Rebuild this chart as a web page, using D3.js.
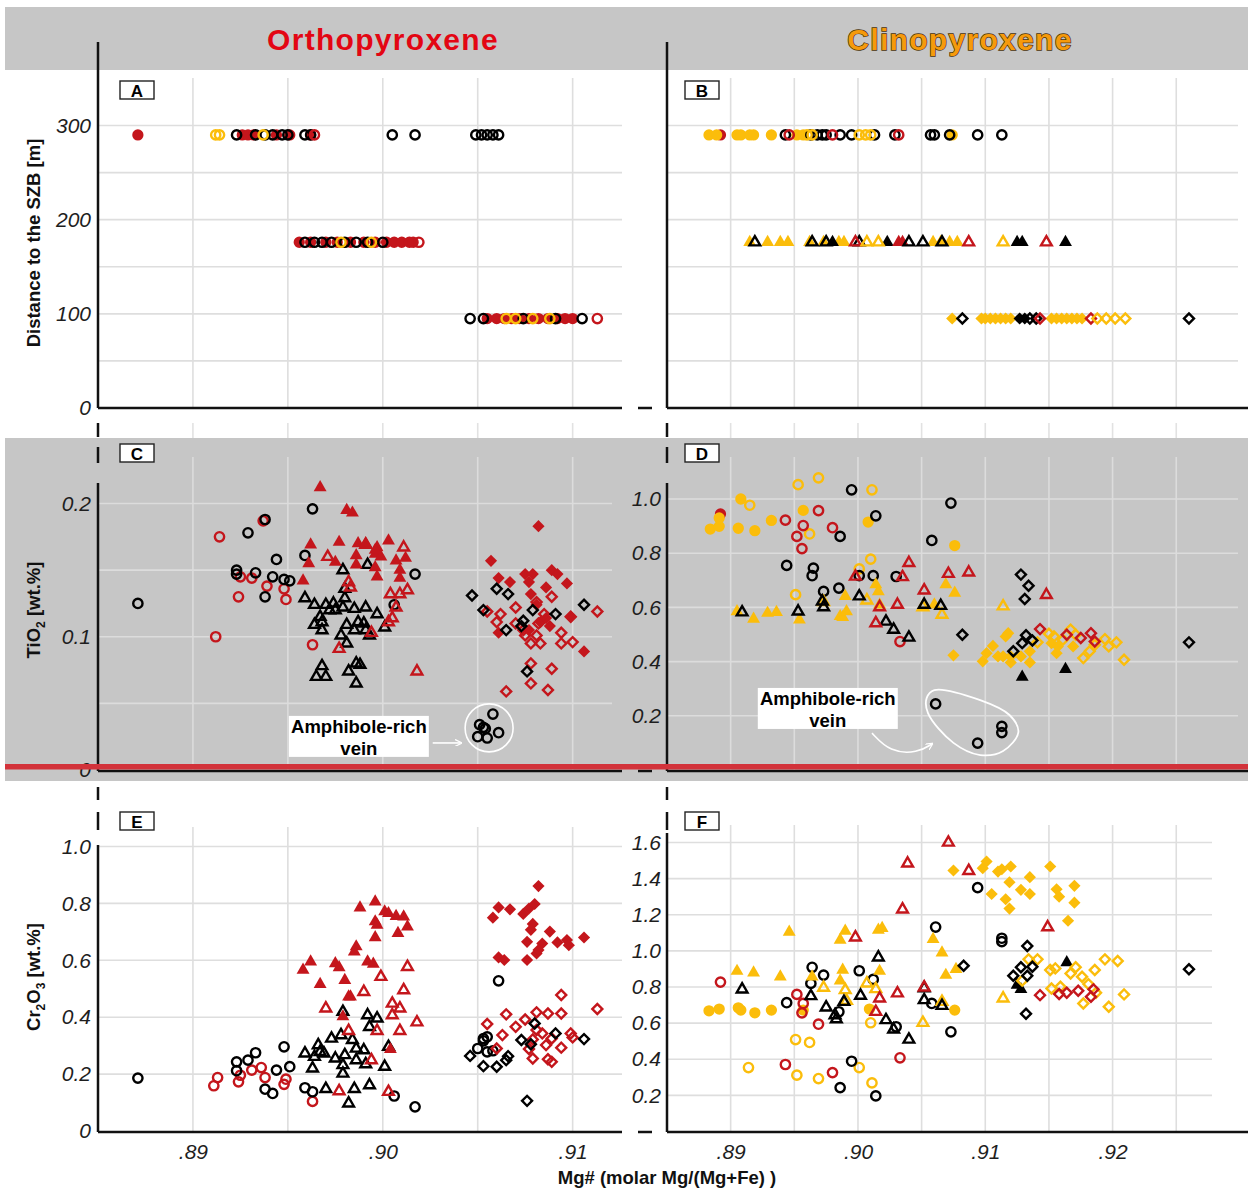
<!DOCTYPE html>
<html>
<head>
<meta charset="utf-8">
<script src="https://cdn.jsdelivr.net/npm/d3@7"></script>
<style>
  body { margin: 0; background: #fff; }
  svg { display: block; }
  text { font-family: "Liberation Sans", Arial, sans-serif; }
</style>
</head>
<body>
<div id="graphicContainer"></div>
<script>
// ---------- colours ----------
var RED = "#c4161c", BLACK = "#000000", ORANGE = "#fbbd0b";

// ---------- ticks / grid ----------
var mgTicksL = [.89, .90, .91];
var mgTicksR = [.89, .90, .91, .92];
var mgGridL = [.89, .895, .90, .905, .91];
var mgGridR = [.89, .895, .90, .905, .91, .915, .92, .925];
var distTicks = [0, 100, 200, 300];
var distGrid = [50, 100, 150, 200, 250, 300];
var tiTicksC = [0, .1, .2];
var tiGridC = [.05, .1, .15, .2];
var tiTicksD = [.2, .4, .6, .8, 1.0];
var crTicksE = [0, .2, .4, .6, .8, 1.0];
var crTicksF = [.2, .4, .6, .8, 1.0, 1.2, 1.4, 1.6];

// ---------- panel A (opx, distance rows) : Mg# values per row ----------
var A_redFilled_290 = [.8871, .8926, .8929, .8932, .8944, .8951, .8962];
var A_redFilled_176 = [.8956, .8962, .8970, .8976, .8983, .8990, .8996, .9002, .9006, .9010, .9014, .9016];
var A_redFilled_95 = [.9055, .9060, .9064, .9068, .9072, .9077, .9082, .9087, .9092, .9096, .9100];
var A_blackOpen_290 = [.8923, .8933, .8938, .8942, .8947, .8950, .8959, .8962, .9005, .9017, .9049, .9052, .9055, .9058, .9061];
var A_blackOpen_176 = [.8959, .8964, .8968, .8973, .8980, .8986, .8992, .9000];
var A_blackOpen_95 = [.9046, .9053, .9074, .9091, .9105];
var A_orangeOpen_290 = [.8912, .8914, .8937];
var A_orangeOpen_176 = [.8978, .8994];
var A_orangeOpen_95 = [.9065, .9070, .9079, .9088];
var A_redOpen_290 = [.8964];
var A_redOpen_176 = [.9019];
var A_redOpen_95 = [.9113];

// ---------- panel B (cpx, distance rows) ----------
var B_redFilledCirc = [.8892];
var B_orangeFilledCirc = [.8883, .8889, .8905, .8908, .8915, .8918, .8932, .8952, .8957, .9074];
var B_blackOpenCirc = [.8943, .8963, .8968, .8972, .8975, .8986, .8995, .9013, .9029, .9057, .9060, .9072, .9094, .9113];
var B_redOpenCirc = [.8946, .8980, .9032];
var B_orangeOpenCirc = [.8960, .8964, .9001, .9006, .9010];
var B_orangeFilledTri = [.8915, .8929, .8939, .8945, .8962, .8973, .8985, .8989, .9059, .9065, .9072, .9078];
var B_blackOpenTri = [.8919, .8964, .8975, .9001, .9040, .9051, .9066];
var B_blackFilledTri = [.8980, .9023, .9125, .9129, .9163];
var B_redOpenTri = [.8998, .9087, .9148];
var B_redFilledTri = [.9032, .9035];
var B_orangeOpenTri = [.9007, .9016, .9114];
var B_orangeFilledDia = [.9074, .9097, .9100, .9104, .9108, .9112, .9116, .9120, .9152, .9156, .9160, .9164, .9168, .9172, .9176];
var B_blackOpenDia = [.9082, .9135, .9140, .9260];
var B_blackFilledDia = [.9127, .9131];
var B_redOpenDia = [.9143, .9183];
var B_orangeOpenDia = [.9188, .9195, .9202, .9210];

// ---------- panel C (opx TiO2) ----------
var C_redOpenCirc = [[.8914,.175],[.8937,.187],[.8925,.145],[.8931,.144],[.8939,.138],[.8924,.130],[.8948,.136],[.8949,.128],[.8912,.100],[.8963,.094]];
var C_blackOpenCirc = [[.8871,.125],[.8938,.188],[.8929,.178],[.8963,.196],[.8944,.158],[.8959,.161],[.8923,.150],[.8923,.147],[.8933,.148],[.8942,.145],[.8948,.143],[.8951,.142],[.8938,.130],[.9017,.147],[.9006,.124],
  [.9058,.042],[.9051,.034],[.9054,.031],[.9061,.028],[.9050,.025],[.9055,.024],[.9053,.032]];
var C_blackOpenTri = [[.8979,.150],[.8992,.154],[.8980,.136],[.8980,.129],[.8959,.129],[.8964,.124],[.8970,.124],[.8974,.125],[.8972,.120],[.8975,.120],[.8979,.122],[.8985,.121],[.8991,.122],[.8997,.117],[.8967,.115],[.8968,.111],[.8964,.109],[.8968,.105],[.8981,.109],[.8987,.111],[.8985,.105],[.8990,.110],[.8991,.105],[.8993,.101],[.9001,.107],[.8978,.101],[.8981,.095],[.8968,.078],[.8965,.070],[.8970,.070],[.8982,.074],[.8986,.080],[.8988,.079],[.8986,.065]];
var C_redFilledTri = [[.8967,.212],[.8981,.195],[.8984,.193],[.8962,.169],[.8977,.171],[.8987,.170],[.8991,.170],[.9003,.172],[.8997,.167],[.8961,.155],[.8986,.161],[.8986,.154],[.8996,.162],[.8999,.160],[.9007,.157],[.9009,.150],[.8996,.152],[.8997,.145],[.9009,.144],[.8958,.142],[.8975,.156],[.8996,.165],[.9012,.159]];
var C_redOpenTri = [[.8971,.160],[.8991,.169],[.9011,.167],[.8982,.141],[.8983,.137],[.9004,.132],[.9009,.132],[.9013,.135],[.9007,.122],[.9005,.114],[.9003,.111],[.8977,.091],[.9018,.074],[.8994,.103]];
var C_redFilledDia = [[.9082,.183],[.9057,.157],[.9061,.144],[.9067,.141],[.9075,.147],[.9079,.147],[.9077,.141],[.9089,.150],[.9092,.147],[.9097,.140],[.9086,.137],[.9078,.132],[.9081,.124],[.9083,.111],[.9088,.108],[.9099,.115],[.9061,.103],[.9106,.089],[.9077,.105],[.9086,.114]];
var C_redOpenDia = [[.9089,.130],[.9081,.126],[.9070,.122],[.9055,.119],[.9062,.117],[.9085,.117],[.9099,.115],[.9113,.119],[.9060,.111],[.9070,.110],[.9082,.110],[.9075,.101],[.9081,.101],[.9094,.103],[.9078,.095],[.9083,.095],[.9094,.095],[.9100,.096],[.9078,.080],[.9089,.076],[.9078,.065],[.9087,.060],[.9065,.059],[.9074,.105]];
var C_blackOpenDia = [[.9047,.131],[.9060,.136],[.9066,.132],[.9053,.120],[.9079,.120],[.9091,.117],[.9106,.124],[.9074,.112],[.9065,.105],[.9073,.108],[.9076,.074]];

// ---------- panel D (cpx TiO2) ----------
var D_redFilledCirc = [[.8892,.945]];
var D_orangeFilledCirc = [[.8908,1.0],[.8884,.889],[.8891,.899],[.8891,.930],[.8906,.892],[.8919,.883],[.8932,.921],[.8957,.958],[.9008,.915],[.9076,.828]];
var D_orangeOpenCirc = [[.8915,.977],[.8953,1.053],[.8969,1.078],[.9011,1.034],[.8962,.871],[.9010,.778],[.9001,.742],[.8951,.647]];
var D_redOpenCirc = [[.8943,.922],[.8969,.957],[.8957,.902],[.8980,.894],[.8952,.862],[.8956,.817],[.9033,.474]];
var D_blackOpenCirc = [[.8995,1.034],[.9073,.985],[.9014,.938],[.8986,.862],[.9058,.847],[.8944,.755],[.8965,.745],[.8964,.717],[.9012,.717],[.9001,.717],[.9030,.714],[.8973,.659],[.8985,.671],
  [.9061,.244],[.9094,.099],[.9113,.161],[.9113,.138]];
var D_orangeFilledTri = [[.8905,.585],[.8918,.557],[.8929,.579],[.8936,.582],[.8954,.554],[.8986,.567],[.8988,.564],[.8991,.585],[.8990,.641],[.9014,.684],[.9016,.659],[.9017,.610],[.9069,.684],[.9076,.653],[.9060,.610]];
var D_orangeOpenTri = [[.8973,.620],[.9007,.626],[.9114,.604],[.9066,.573],[.9051,.601]];
var D_blackOpenTri = [[.8909,.582],[.8953,.585],[.8972,.622],[.8973,.601],[.9001,.641],[.9022,.548],[.9028,.518],[.9040,.489],[.9052,.610],[.9065,.606]];
var D_redOpenTri = [[.9040,.764],[.8998,.714],[.9035,.712],[.9071,.724],[.9087,.729],[.9052,.663],[.9017,.601],[.9031,.610],[.9014,.542],[.9148,.646]];
var D_blackFilledTri = [[.9129,.343],[.9163,.372]];
var D_orangeFilledDia = [[.9075,.423],[.9098,.401],[.9101,.431],[.9106,.458],[.9110,.419],[.9114,.419],[.9116,.493],[.9118,.505],[.9120,.397],[.9120,.419],[.9128,.419],[.9135,.438],[.9135,.397],[.9152,.468],[.9156,.431],[.9157,.456],[.9169,.456]];
var D_orangeOpenDia = [[.9141,.471],[.9150,.503],[.9154,.493],[.9161,.481],[.9167,.518],[.9171,.499],[.9182,.438],[.9177,.413],[.9186,.462],[.9194,.483],[.9197,.456],[.9203,.471],[.9209,.407]];
var D_blackOpenDia = [[.9128,.721],[.9134,.680],[.9131,.631],[.9082,.499],[.9132,.497],[.9129,.468],[.9122,.438],[.9137,.478],[.9260,.471]];
var D_redOpenDia = [[.9143,.520],[.9164,.499],[.9175,.487],[.9183,.505],[.9186,.474]];

// ---------- panel E (opx Cr2O3) ----------
var E_redOpenCirc = [[.8911,.159],[.8913,.188],[.8924,.173],[.8925,.196],[.8931,.214],[.8936,.223],[.8938,.188],[.8948,.164],[.8949,.182],[.8963,.104]];
var E_blackOpenCirc = [[.8871,.186],[.8923,.243],[.8923,.212],[.8929,.249],[.8933,.275],[.8944,.214],[.8948,.296],[.8951,.226],[.8938,.147],[.8942,.132],[.8959,.152],[.8963,.138],[.9006,.123],[.9017,.085],[.9061,.528],[.9050,.290],[.9053,.317],[.9055,.331],[.9055,.278],[.9058,.282],[.9053,.325]];
var E_blackOpenTri = [[.8979,.419],[.8992,.407],[.8997,.396],[.8993,.366],[.8973,.325],[.8978,.337],[.8984,.320],[.8966,.302],[.8967,.278],[.8959,.273],[.8964,.261],[.8969,.273],[.8975,.255],[.8980,.267],[.8986,.290],[.8990,.284],[.8986,.249],[.8979,.232],[.8979,.202],[.8963,.220],[.9001,.226],[.9003,.296],[.8991,.235],[.8970,.148],[.8985,.148],[.8993,.161],[.8982,.097]];
var E_redFilledTri = [[.8988,.785],[.8996,.806],[.9001,.771],[.9003,.765],[.9007,.755],[.9011,.753],[.9013,.718],[.9008,.695],[.8996,.736],[.8997,.724],[.8996,.680],[.8986,.648],[.8985,.630],[.8958,.566],[.8962,.595],[.8975,.589],[.8977,.575],[.8992,.595],[.8995,.587],[.8980,.530],[.8967,.516],[.8982,.472],[.8983,.472],[.8979,.402],[.9004,.287]];
var E_redOpenTri = [[.9013,.577],[.8999,.542],[.9011,.495],[.8990,.489],[.8970,.431],[.9005,.448],[.9009,.431],[.9005,.407],[.9018,.382],[.9009,.352],[.8997,.352],[.8982,.352],[.8994,.249],[.8977,.140],[.9003,.138]];
var E_redFilledDia = [[.9082,.861],[.9061,.786],[.9067,.779],[.9058,.750],[.9074,.763],[.9077,.782],[.9080,.798],[.9079,.728],[.9078,.707],[.9088,.701],[.9076,.665],[.9084,.659],[.9081,.624],[.9082,.636],[.9092,.663],[.9097,.671],[.9098,.653],[.9106,.680],[.9061,.610],[.9064,.601],[.9076,.601]];
var E_redOpenDia = [[.9094,.478],[.9113,.429],[.9065,.410],[.9081,.417],[.9087,.413],[.9094,.413],[.9055,.376],[.9063,.337],[.9070,.366],[.9075,.392],[.9081,.355],[.9084,.343],[.9089,.325],[.9079,.322],[.9086,.302],[.9094,.293],[.9099,.343],[.9100,.329],[.9077,.288],[.9079,.255],[.9087,.252],[.9089,.243],[.9060,.290]];
var E_blackOpenDia = [[.9046,.264],[.9053,.228],[.9060,.226],[.9065,.249],[.9066,.263],[.9073,.320],[.9078,.305],[.9080,.378],[.9091,.343],[.9106,.323],[.9076,.106]];

// ---------- panel F (cpx Cr2O3) ----------
var F_orangeFilledCirc = [[.8883,.668],[.8891,.678],[.8906,.685],[.8908,.672],[.8919,.657],[.8932,.672],[.8957,.672],[.9009,.678],[.9076,.672]];
var F_orangeOpenCirc = [[.8914,.354],[.8951,.509],[.8962,.493],[.8952,.312],[.8969,.293],[.9001,.354],[.9010,.602],[.9011,.269]];
var F_redOpenCirc = [[.8892,.827],[.8952,.759],[.8957,.709],[.8956,.657],[.8969,.594],[.8943,.371],[.8980,.326],[.9033,.408]];
var F_blackOpenCirc = [[.8944,.713],[.8964,.909],[.8963,.820],[.8973,.866],[.9001,.890],[.9012,.842],[.8985,.663],[.9030,.580],[.9058,.709],[.9061,1.132],[.9094,1.350],[.9113,1.070],[.9113,1.051],[.9073,.552],[.8995,.389],[.8986,.243],[.9014,.197]];
var F_orangeFilledTri = [[.8946,1.105],[.8990,1.110],[.8986,1.060],[.9016,1.116],[.9019,1.125],[.9059,1.064],[.9066,.990],[.9077,.898],[.9069,.866],[.8905,.888],[.8918,.879],[.8939,.857],[.8964,.857],[.8988,.894],[.8986,.835],[.9017,.888]];
var F_orangeOpenTri = [[.8973,.796],[.8990,.783],[.8991,.724],[.9007,.820],[.9014,.789],[.9051,.602],[.9114,.737],[.9066,.718]];
var F_blackOpenTri = [[.8909,.787],[.8963,.750],[.8975,.687],[.8982,.644],[.8983,.622],[.8989,.718],[.9002,.752],[.9016,.964],[.9022,.617],[.9028,.565],[.9040,.509],[.9052,.728],[.9066,.696],[.9052,.794]];
var F_redOpenTri = [[.9071,1.600],[.9039,1.484],[.9087,1.443],[.9035,1.230],[.9149,1.131],[.8998,1.075],[.9031,.765],[.9017,.737],[.9052,.798],[.9014,.663]];
var F_blackFilledTri = [[.9164,.936],[.9125,.811],[.9128,.787]];
var F_orangeFilledDia = [[.9075,1.445],[.9098,1.458],[.9101,1.495],[.9110,1.439],[.9113,1.452],[.9120,1.467],[.9151,1.467],[.9135,1.408],[.9119,1.380],[.9128,1.338],[.9135,1.315],[.9105,1.315],[.9116,1.286],[.9119,1.234],[.9156,1.341],[.9158,1.300],[.9170,1.360],[.9170,1.267],[.9165,1.167]];
var F_orangeOpenDia = [[.9134,.953],[.9141,.953],[.9129,.835],[.9151,.894],[.9155,.903],[.9167,.875],[.9171,.909],[.9176,.857],[.9186,.894],[.9194,.953],[.9204,.944],[.9181,.816],[.9187,.768],[.9152,.792],[.9159,.801],[.9177,.709],[.9197,.691],[.9209,.759]];
var F_blackOpenDia = [[.9133,1.027],[.9083,.918],[.9122,.862],[.9128,.909],[.9133,.862],[.9137,.912],[.9132,.652],[.9260,.898]];
var F_redOpenDia = [[.9143,.755],[.9158,.761],[.9164,.768],[.9173,.779],[.9183,.746],[.9185,.787]];

// ---------- amphibole-rich vein outline (Mg#, TiO2) ----------
var veinLoopD = [[.9060,.295],[.9096,.258],[.9119,.203],[.9126,.140],[.9114,.070],[.9096,.055],[.9075,.100],[.9055,.210],[.9054,.266]];
var veinArrowD = [[.9011,.136],[.9025,.066],[.9047,.063],[.9058,.096]];

function makeChart() {
    var W = 1248, H = 1192;
    d3.select("#graphicContainer svg").remove();
    var svg = d3.select("#graphicContainer").append("svg")
        .attr("width", W).attr("height", H);

    var xL = d3.scaleLinear().domain([.885, .9126]).range([98, 622]);
    var xR = d3.scaleLinear().domain([.885, .9304]).range([667, 1245]);
    var yA = d3.scaleLinear().domain([0, 300]).range([408, 125.5]);
    var yC = d3.scaleLinear().domain([0, .2]).range([770, 503.5]);
    var yD = d3.scaleLinear().domain([0, 1]).range([770, 499]);
    var yE = d3.scaleLinear().domain([0, 1]).range([1131, 846.5]);
    var yF = d3.scaleLinear().domain([0, 1.6]).range([1131.5, 842.5]);

    // gray bands
    svg.append("rect").attr("x", 5).attr("y", 7).attr("width", W - 5).attr("height", 63).attr("fill", "#c6c6c6");
    svg.append("rect").attr("x", 5).attr("y", 438).attr("width", W - 5).attr("height", 343).attr("fill", "#c6c6c6");

    // grid
    function grid(x, y, xs, ys, vTop, vBot, hLeft, hRight, col) {
        var g = svg.append("g").attr("stroke", col).attr("stroke-width", 1.6);
        g.selectAll(null).data(xs).join("line")
            .attr("x1", d => x(d)).attr("x2", d => x(d)).attr("y1", vTop).attr("y2", vBot);
        g.selectAll(null).data(ys).join("line")
            .attr("x1", hLeft).attr("x2", hRight).attr("y1", d => y(d)).attr("y2", d => y(d));
    }
    grid(xL, yA, mgGridL, distGrid, 78, 408, 98, 622, "#dedede");
    grid(xR, yA, mgGridR, distGrid, 78, 408, 667, 1238, "#dedede");
    grid(xL, yC, mgGridL, [], 423, 438, 0, 0, "#e2e2e2");
    grid(xR, yD, mgGridR, [], 423, 438, 0, 0, "#e2e2e2");
    grid(xL, yC, mgGridL, tiGridC, 457, 770, 98, 612, "#dcdcdc");
    grid(xR, yD, mgGridR, tiTicksD, 457, 770, 667, 1238, "#dcdcdc");
    grid(xL, yE, mgGridL, crTicksE.slice(1), 827, 1131, 98, 622, "#dedede");
    grid(xR, yF, mgGridR, crTicksF, 825, 1131, 667, 1212, "#dedede");

    // axis frame lines
    var ax = svg.append("g").attr("stroke", "#111").attr("stroke-width", 2.5).attr("fill", "none");
    var frame = [
        [98, 42, 98, 408], [98, 408, 622, 408], [667, 42, 667, 408], [667, 408, 1248, 408],
        [98, 423, 98, 437], [98, 447, 98, 463], [98, 483, 98, 771], [98, 771, 622, 771],
        [667, 423, 667, 437], [667, 447, 667, 463], [667, 483, 667, 771], [667, 771, 1248, 771],
        [98, 787, 98, 800], [98, 812, 98, 830], [98, 845, 98, 1132], [98, 1132, 622, 1132],
        [667, 787, 667, 800], [667, 812, 667, 830], [667, 833, 667, 1132], [667, 1132, 1248, 1132],
        [638, 408, 652, 408], [638, 771, 652, 771], [638, 1132, 652, 1132]
    ];
    ax.selectAll(null).data(frame).join("line")
        .attr("x1", d => d[0]).attr("y1", d => d[1]).attr("x2", d => d[2]).attr("y2", d => d[3]);

    // tick labels
    function styleTicks(sel) {
        sel.select(".domain").remove();
        sel.selectAll("text").attr("font-size", 21).attr("font-style", "italic")
            .attr("fill", "#1e1e1e").attr("font-family", "'Liberation Sans', Arial, sans-serif");
    }
    var f1 = d => d === 0 ? "0" : d3.format(".1f")(d);
    svg.append("g").attr("transform", "translate(98,0)")
        .call(d3.axisLeft(yA).tickValues(distTicks).tickSize(0).tickPadding(7)).call(styleTicks);
    svg.append("g").attr("transform", "translate(98,0)")
        .call(d3.axisLeft(yC).tickValues(tiTicksC).tickFormat(f1).tickSize(0).tickPadding(7)).call(styleTicks);
    svg.append("g").attr("transform", "translate(667,0)")
        .call(d3.axisLeft(yD).tickValues(tiTicksD).tickFormat(f1).tickSize(0).tickPadding(6)).call(styleTicks);
    svg.append("g").attr("transform", "translate(98,0)")
        .call(d3.axisLeft(yE).tickValues(crTicksE).tickFormat(f1).tickSize(0).tickPadding(7)).call(styleTicks);
    svg.append("g").attr("transform", "translate(667,0)")
        .call(d3.axisLeft(yF).tickValues(crTicksF).tickFormat(f1).tickSize(0).tickPadding(6)).call(styleTicks);
    var fmg = d => d3.format(".2f")(d).replace(/^0/, "");
    svg.append("g").attr("transform", "translate(0,1132)")
        .call(d3.axisBottom(xL).tickValues(mgTicksL).tickFormat(fmg).tickSize(0).tickPadding(12)).call(styleTicks);
    svg.append("g").attr("transform", "translate(0,1132)")
        .call(d3.axisBottom(xR).tickValues(mgTicksR).tickFormat(fmg).tickSize(0).tickPadding(12)).call(styleTicks);

    // symbols
    var symSpec = {
        circ: [d3.symbolCircle, 68, 100],
        tri: [d3.symbolTriangle, 50, 72],
        dia: [d3.symbolSquare, 50, 74]
    };
    function drawSeries(x, y, list) {
        var g = svg.append("g");
        list.forEach(function(s) {
            var spec = symSpec[s.shape];
            var p = d3.symbol(spec[0], s.filled ? spec[2] : spec[1])();
            g.append("g").selectAll("path").data(s.data).join("path")
                .attr("d", p)
                .attr("transform", d => "translate(" + x(d[0]) + "," + y(d[1]) + ")" + (s.shape === "dia" ? " rotate(45)" : ""))
                .attr("fill", s.filled ? s.color : "none")
                .attr("stroke", s.filled ? "none" : s.color)
                .attr("stroke-width", 2.4);
        });
    }
    var row = (arr, dist) => arr.map(v => [v, dist]);

    drawSeries(xL, yA, [
        {data: row(A_redFilled_290, 290).concat(row(A_redFilled_176, 176), row(A_redFilled_95, 95)), color: RED, shape: "circ", filled: true},
        {data: row(A_blackOpen_290, 290).concat(row(A_blackOpen_176, 176), row(A_blackOpen_95, 95)), color: BLACK, shape: "circ", filled: false},
        {data: row(A_orangeOpen_290, 290).concat(row(A_orangeOpen_176, 176), row(A_orangeOpen_95, 95)), color: ORANGE, shape: "circ", filled: false},
        {data: row(A_redOpen_290, 290).concat(row(A_redOpen_176, 176), row(A_redOpen_95, 95)), color: RED, shape: "circ", filled: false}
    ]);
    drawSeries(xR, yA, [
        {data: row(B_redFilledCirc, 290), color: RED, shape: "circ", filled: true},
        {data: row(B_orangeFilledCirc, 290), color: ORANGE, shape: "circ", filled: true},
        {data: row(B_blackOpenCirc, 290), color: BLACK, shape: "circ", filled: false},
        {data: row(B_redOpenCirc, 290), color: RED, shape: "circ", filled: false},
        {data: row(B_orangeOpenCirc, 290), color: ORANGE, shape: "circ", filled: false},
        {data: row(B_orangeFilledTri, 176), color: ORANGE, shape: "tri", filled: true},
        {data: row(B_blackFilledTri, 176), color: BLACK, shape: "tri", filled: true},
        {data: row(B_redFilledTri, 176), color: RED, shape: "tri", filled: true},
        {data: row(B_blackOpenTri, 176), color: BLACK, shape: "tri", filled: false},
        {data: row(B_redOpenTri, 176), color: RED, shape: "tri", filled: false},
        {data: row(B_orangeOpenTri, 176), color: ORANGE, shape: "tri", filled: false},
        {data: row(B_orangeFilledDia, 95), color: ORANGE, shape: "dia", filled: true},
        {data: row(B_blackFilledDia, 95), color: BLACK, shape: "dia", filled: true},
        {data: row(B_blackOpenDia, 95), color: BLACK, shape: "dia", filled: false},
        {data: row(B_redOpenDia, 95), color: RED, shape: "dia", filled: false},
        {data: row(B_orangeOpenDia, 95), color: ORANGE, shape: "dia", filled: false}
    ]);
    drawSeries(xL, yC, [
        {data: C_redOpenCirc, color: RED, shape: "circ", filled: false},
        {data: C_blackOpenCirc, color: BLACK, shape: "circ", filled: false},
        {data: C_blackOpenTri, color: BLACK, shape: "tri", filled: false},
        {data: C_redFilledTri, color: RED, shape: "tri", filled: true},
        {data: C_redOpenTri, color: RED, shape: "tri", filled: false},
        {data: C_redFilledDia, color: RED, shape: "dia", filled: true},
        {data: C_redOpenDia, color: RED, shape: "dia", filled: false},
        {data: C_blackOpenDia, color: BLACK, shape: "dia", filled: false}
    ]);
    drawSeries(xR, yD, [
        {data: D_redFilledCirc, color: RED, shape: "circ", filled: true},
        {data: D_orangeFilledCirc, color: ORANGE, shape: "circ", filled: true},
        {data: D_orangeOpenCirc, color: ORANGE, shape: "circ", filled: false},
        {data: D_redOpenCirc, color: RED, shape: "circ", filled: false},
        {data: D_blackOpenCirc, color: BLACK, shape: "circ", filled: false},
        {data: D_orangeFilledTri, color: ORANGE, shape: "tri", filled: true},
        {data: D_orangeOpenTri, color: ORANGE, shape: "tri", filled: false},
        {data: D_blackOpenTri, color: BLACK, shape: "tri", filled: false},
        {data: D_redOpenTri, color: RED, shape: "tri", filled: false},
        {data: D_blackFilledTri, color: BLACK, shape: "tri", filled: true},
        {data: D_orangeFilledDia, color: ORANGE, shape: "dia", filled: true},
        {data: D_orangeOpenDia, color: ORANGE, shape: "dia", filled: false},
        {data: D_blackOpenDia, color: BLACK, shape: "dia", filled: false},
        {data: D_redOpenDia, color: RED, shape: "dia", filled: false}
    ]);
    drawSeries(xL, yE, [
        {data: E_redOpenCirc, color: RED, shape: "circ", filled: false},
        {data: E_blackOpenCirc, color: BLACK, shape: "circ", filled: false},
        {data: E_blackOpenTri, color: BLACK, shape: "tri", filled: false},
        {data: E_redFilledTri, color: RED, shape: "tri", filled: true},
        {data: E_redOpenTri, color: RED, shape: "tri", filled: false},
        {data: E_redFilledDia, color: RED, shape: "dia", filled: true},
        {data: E_redOpenDia, color: RED, shape: "dia", filled: false},
        {data: E_blackOpenDia, color: BLACK, shape: "dia", filled: false}
    ]);
    drawSeries(xR, yF, [
        {data: F_orangeFilledCirc, color: ORANGE, shape: "circ", filled: true},
        {data: F_orangeOpenCirc, color: ORANGE, shape: "circ", filled: false},
        {data: F_redOpenCirc, color: RED, shape: "circ", filled: false},
        {data: F_blackOpenCirc, color: BLACK, shape: "circ", filled: false},
        {data: F_orangeFilledTri, color: ORANGE, shape: "tri", filled: true},
        {data: F_orangeOpenTri, color: ORANGE, shape: "tri", filled: false},
        {data: F_blackOpenTri, color: BLACK, shape: "tri", filled: false},
        {data: F_redOpenTri, color: RED, shape: "tri", filled: false},
        {data: F_blackFilledTri, color: BLACK, shape: "tri", filled: true},
        {data: F_orangeFilledDia, color: ORANGE, shape: "dia", filled: true},
        {data: F_orangeOpenDia, color: ORANGE, shape: "dia", filled: false},
        {data: F_blackOpenDia, color: BLACK, shape: "dia", filled: false},
        {data: F_redOpenDia, color: RED, shape: "dia", filled: false}
    ]);

    // panel letters
    var letters = [["A", 120, 81], ["B", 685, 81], ["C", 120, 444], ["D", 685, 444], ["E", 120, 812], ["F", 685, 812]];
    var lg = svg.append("g");
    lg.selectAll("rect").data(letters).join("rect")
        .attr("x", d => d[1]).attr("y", d => d[2]).attr("width", 34).attr("height", 18)
        .attr("fill", "#fff").attr("stroke", "#222").attr("stroke-width", 1.4);
    lg.selectAll("text").data(letters).join("text")
        .attr("x", d => d[1] + 17).attr("y", d => d[2] + 16).attr("text-anchor", "middle")
        .attr("font-size", 17).attr("font-weight", "bold").text(d => d[0]);

    // amphibole-rich vein notes
    svg.append("defs").append("marker").attr("id", "wArrow")
        .attr("viewBox", "0 0 10 10").attr("refX", 8).attr("refY", 5)
        .attr("markerWidth", 7).attr("markerHeight", 7).attr("orient", "auto")
        .attr("markerUnits", "userSpaceOnUse")
        .append("path").attr("d", "M0,0 L10,5 L0,10").attr("fill", "none").attr("stroke", "#fff").attr("stroke-width", 1.8);

    function noteBox(cx, cy) {
        var g = svg.append("g");
        g.append("rect").attr("x", cx - 70).attr("y", cy - 20).attr("width", 140).attr("height", 41).attr("fill", "#fff");
        g.append("text").attr("x", cx).attr("y", cy - 3).attr("text-anchor", "middle")
            .attr("font-size", 18.5).attr("font-weight", "bold").text("Amphibole-rich");
        g.append("text").attr("x", cx).attr("y", cy + 19).attr("text-anchor", "middle")
            .attr("font-size", 18.5).attr("font-weight", "bold").text("vein");
    }
    noteBox(xL(.89874), yC(.0256));
    noteBox(xR(.89763), yD(.229));

    svg.append("line")
        .attr("x1", xL(.90263)).attr("x2", xL(.9041)).attr("y1", yC(.0203)).attr("y2", yC(.0203))
        .attr("stroke", "#fff").attr("stroke-width", 1.6).attr("marker-end", "url(#wArrow)");
    svg.append("ellipse").attr("cx", xL(.9056)).attr("cy", yC(.0316)).attr("rx", 24).attr("ry", 24)
        .attr("fill", "none").attr("stroke", "#fff").attr("stroke-width", 1.6);

    svg.append("path")
        .attr("d", d3.line().x(d => xR(d[0])).y(d => yD(d[1])).curve(d3.curveCatmullRomClosed)(veinLoopD))
        .attr("fill", "none").attr("stroke", "#fff").attr("stroke-width", 1.8);
    svg.append("path")
        .attr("d", d3.line().x(d => xR(d[0])).y(d => yD(d[1])).curve(d3.curveBasis)(veinArrowD))
        .attr("fill", "none").attr("stroke", "#fff").attr("stroke-width", 1.6).attr("marker-end", "url(#wArrow)");

    // red divider line
    svg.append("rect").attr("x", 5).attr("y", 764).attr("width", W - 5).attr("height", 5.5).attr("fill", "#d2323a");

    // titles
    svg.append("text").attr("x", 383).attr("y", 49.5).attr("text-anchor", "middle")
        .attr("font-size", 30).attr("font-weight", "bold").attr("letter-spacing", 1.3)
        .attr("fill", "#e30613").text("Orthopyroxene");
    svg.append("text").attr("x", 960).attr("y", 49.5).attr("text-anchor", "middle")
        .attr("font-size", 30).attr("font-weight", "bold").attr("letter-spacing", 1.3)
        .attr("fill", "#f59a0c").attr("stroke", "#4a3208").attr("stroke-width", 1.4)
        .attr("paint-order", "stroke").text("Clinopyroxene");

    // axis titles
    function yTitle(y, build) {
        var t = svg.append("text").attr("transform", "translate(40," + y + ") rotate(-90)")
            .attr("text-anchor", "middle").attr("font-size", 18.5).attr("font-weight", "bold").attr("fill", "#111");
        build(t);
    }
    yTitle(243, t => t.text("Distance to the SZB [m]"));
    yTitle(610, t => {
        t.append("tspan").text("TiO");
        t.append("tspan").attr("font-size", 12).attr("dy", 5).text("2");
        t.append("tspan").attr("dy", -5).text(" [wt.%]");
    });
    yTitle(977, t => {
        t.append("tspan").text("Cr");
        t.append("tspan").attr("font-size", 12).attr("dy", 5).text("2");
        t.append("tspan").attr("dy", -5).text("O");
        t.append("tspan").attr("font-size", 12).attr("dy", 5).text("3");
        t.append("tspan").attr("dy", -5).text(" [wt.%]");
    });
    svg.append("text").attr("x", 667).attr("y", 1184).attr("text-anchor", "middle")
        .attr("font-size", 18.5).attr("font-weight", "bold").attr("fill", "#111")
        .text("Mg# (molar Mg/(Mg+Fe) )");
}

makeChart();
</script>
</body>
</html>
